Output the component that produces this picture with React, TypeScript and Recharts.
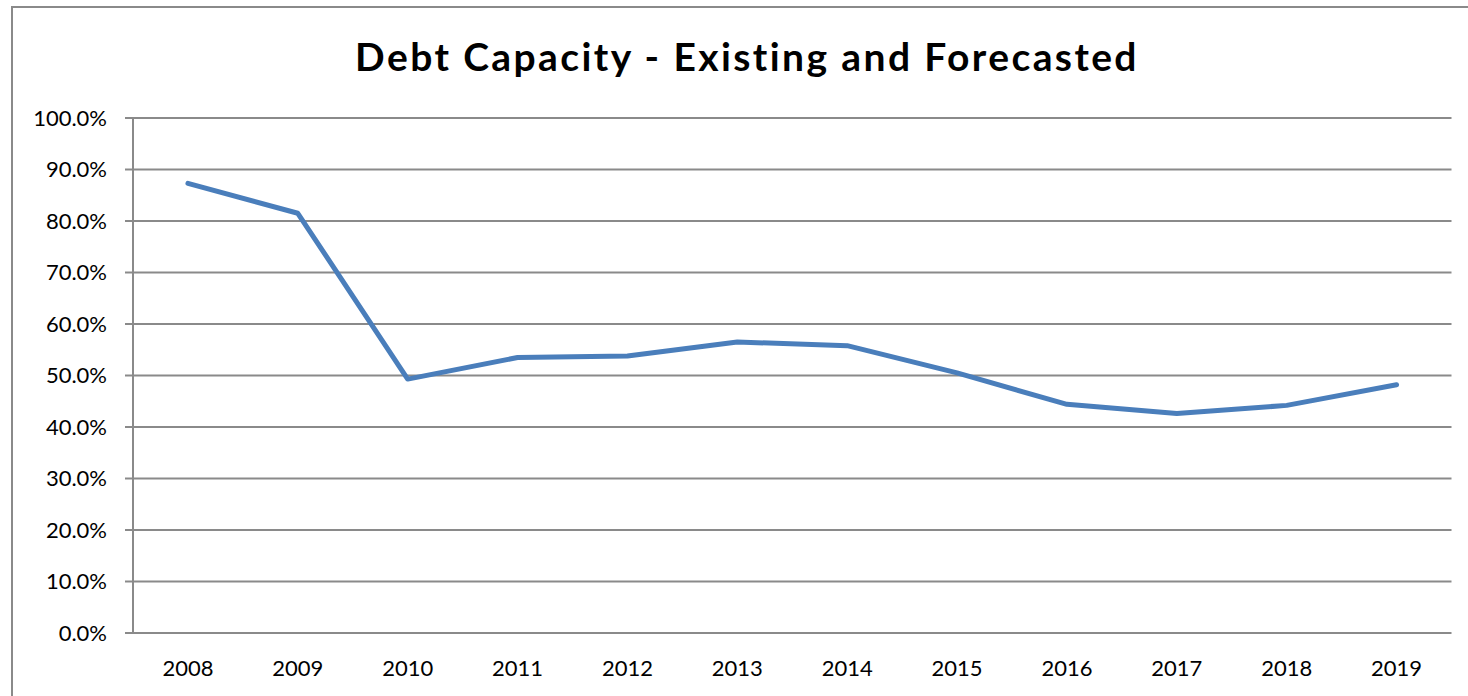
import { CartesianGrid, Line, LineChart, XAxis, YAxis } from 'recharts';

const years = ['2008', '2009', '2010', '2011', '2012', '2013', '2014', '2015', '2016', '2017', '2018', '2019'];
const debtCapacity = [0.873, 0.815, 0.493, 0.535, 0.538, 0.565, 0.558, 0.505, 0.444, 0.426, 0.442, 0.482];
const yTicks = [0, 0.1, 0.2, 0.3, 0.4, 0.5, 0.6, 0.7, 0.8, 0.9, 1.0];
const boundaryTicks = [0, 1, 2, 3, 4, 5, 6, 7, 8, 9, 10, 11, 12];

const data = years.map((year, i) => ({ year, value: debtCapacity[i] }));

const gray = '#8a8a8a';
const font = 'Lato, "Open Sans", sans-serif';

export default function App() {
    const plotLeft = 133;
    const plotRight = 1451.5;
    const band = (plotRight - plotLeft) / years.length;

    return (
        <div style={{ position: 'absolute', left: 0, top: 0, width: 1468, height: 696, background: '#fff', overflow: 'hidden', fontFamily: font }}>
            <div style={{ position: 'absolute', left: 11, top: 6, width: 1500, height: 720, border: `2px solid ${gray}`, boxSizing: 'border-box' }} />
            <div style={{ position: 'absolute', left: 0, top: 29, width: 1494, textAlign: 'center', fontSize: 39, letterSpacing: 2.4, fontWeight: 700, lineHeight: '54px', color: '#000' }}>
                Debt Capacity - Existing and Forecasted
            </div>
            <div style={{ position: 'absolute', left: 0, top: 0 }}>
                <LineChart width={1468} height={696} data={data} margin={{ top: 118, right: 16.5, left: 10, bottom: 23 }}>
                    <CartesianGrid vertical={false} stroke={gray} strokeWidth={2} />
                    <YAxis
                        type="number"
                        domain={[0, 1]}
                        ticks={yTicks}
                        width={123}
                        tickFormatter={(v) => `${(v * 100).toFixed(1)}%`}
                        stroke={gray}
                        strokeWidth={2}
                        tickSize={8}
                        tickMargin={18}
                        tick={{ fill: '#000', fontSize: 22, fontFamily: font }}
                        interval={0}
                    />
                    <XAxis
                        xAxisId="bounds"
                        type="number"
                        domain={[0, 12]}
                        ticks={boundaryTicks}
                        height={0}
                        tick={false}
                        tickSize={8}
                        stroke={gray}
                        strokeWidth={2}
                        interval={0}
                    />
                    <XAxis
                        xAxisId="cat"
                        dataKey="year"
                        height={40}
                        padding={{ left: band / 2, right: band / 2 }}
                        axisLine={false}
                        tickLine={false}
                        tickSize={8}
                        tickMargin={19}
                        tick={{ fill: '#000', fontSize: 22, fontFamily: font }}
                        interval={0}
                    />
                    <Line
                        xAxisId="cat"
                        type="linear"
                        dataKey="value"
                        stroke="#4a7ebb"
                        strokeWidth={5}
                        strokeLinecap="round"
                        strokeLinejoin="round"
                        dot={false}
                        activeDot={false}
                        isAnimationActive={false}
                    />
                </LineChart>
            </div>
        </div>
    );
}
